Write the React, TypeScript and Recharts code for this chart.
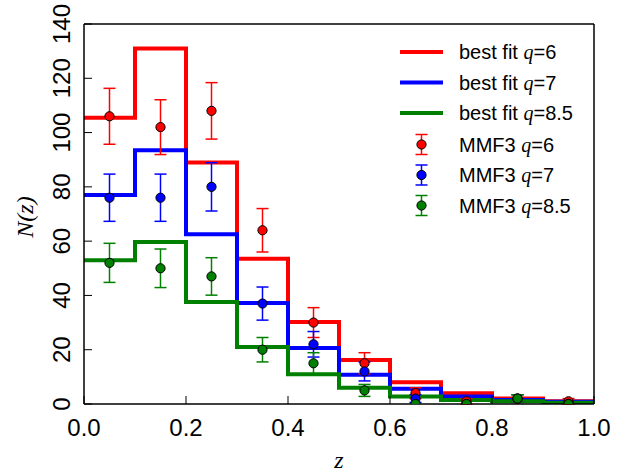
import { ComposedChart, Line, Scatter, ErrorBar, XAxis, YAxis, Label, Legend } from 'recharts'

// bin edges of the redshift histogram
const BIN_EDGES = [0, 0.1, 0.2, 0.3, 0.4, 0.5, 0.6, 0.7, 0.8, 0.9, 1.0]
const BIN_CENTERS = [0.05, 0.15, 0.25, 0.35, 0.45, 0.55, 0.65, 0.75, 0.85, 0.95]

// best fit model counts per bin
const FIT_Q6 = [105.5, 131, 89, 53.5, 30.2, 16.2, 8, 4, 2, 1]
const FIT_Q7 = [77, 93.5, 62.5, 37.2, 20.6, 10.8, 5.6, 2.8, 1.5, 0.8]
const FIT_Q85 = [53, 59.7, 37.6, 21, 11, 6, 2.8, 1.5, 1, 0.5]

// MMF3 cluster counts with errors
const MMF3_Q6 = [106, 102, 108, 64, 30, 15, 4, 1, 2, 1]
const ERR_Q6 = [10.3, 10.1, 10.4, 8, 5.5, 3.9, 2, 1, 1.4, 1]
const MMF3_Q7 = [76, 76, 80, 37, 22, 12, 2, 0, 2, 0]
const ERR_Q7 = [8.7, 8.7, 8.9, 6.1, 4.7, 3.5, 1.4, 0, 1.4, 0]
const MMF3_Q85 = [52, 50, 47, 20, 15, 5, 0, 0, 2, 0]
const ERR_Q85 = [7.2, 7.1, 6.9, 4.5, 3.9, 2.2, 0, 0, 1.4, 0]

const X_TICKS = [0, 0.2, 0.4, 0.6, 0.8, 1.0]
const Y_TICKS = [0, 20, 40, 60, 80, 100, 120, 140]

const RED = '#ff0000'
const BLUE = '#0000ff'
const GREEN = '#008000'
const SANS = '"Liberation Sans", Arial, Helvetica, sans-serif'
const SERIF = '"Liberation Serif", "DejaVu Serif", serif'

const steps = (vals: number[]) =>
  BIN_EDGES.map((x, i) => ({ x, y: vals[Math.min(i, vals.length - 1)] }))

const points = (vals: number[], errs: number[]) =>
  BIN_CENTERS.map((x, i) => ({ x, y: vals[i], e: errs[i] }))

const dot = (color: string) => (p: any) =>
  <circle cx={p.cx} cy={p.cy} r={4.6} fill={color} stroke="#000" strokeWidth={1} />

const XTick = (p: any) => (
  <text x={p.x} y={p.y + 32} textAnchor="middle" fontFamily={SANS} fontSize={24} fill="#000">
    {Number(p.payload.value).toFixed(1)}
  </text>
)

const YTick = (p: any) => (
  <text
    x={p.x}
    y={p.y}
    transform={`rotate(-90, ${p.x}, ${p.y})`}
    textAnchor="middle"
    fontFamily={SANS}
    fontSize={24}
    fill="#000"
  >
    {p.payload.value}
  </text>
)

const fitItems = [
  { color: RED, q: '6' },
  { color: BLUE, q: '7' },
  { color: GREEN, q: '8.5' },
]

function LegendBox() {
  const rowH = 30.5
  return (
    <svg width={210} height={190}>
      {fitItems.map((it, i) => {
        const cy = 22 + i * rowH
        return (
          <g key={'f' + i}>
            <line x1={10} x2={53} y1={cy} y2={cy} stroke={it.color} strokeWidth={4} />
            <text x={69} y={cy + 7} fontFamily={SANS} fontSize={20} fill="#000">
              best fit <tspan fontFamily={SERIF} fontStyle="italic">q</tspan>={it.q}
            </text>
          </g>
        )
      })}
      {fitItems.map((it, i) => {
        const cy = 22 + (i + 3) * rowH + 1
        return (
          <g key={'m' + i}>
            <line x1={31.5} x2={31.5} y1={cy - 10} y2={cy + 10} stroke={it.color} strokeWidth={1.5} />
            <line x1={25.5} x2={37.5} y1={cy - 10} y2={cy - 10} stroke={it.color} strokeWidth={1.5} />
            <line x1={25.5} x2={37.5} y1={cy + 10} y2={cy + 10} stroke={it.color} strokeWidth={1.5} />
            <circle cx={31.5} cy={cy} r={4.6} fill={it.color} stroke="#000" strokeWidth={1} />
            <text x={69} y={cy + 7} fontFamily={SANS} fontSize={20} fill="#000">
              MMF3 <tspan fontFamily={SERIF} fontStyle="italic">q</tspan>={it.q}
            </text>
          </g>
        )
      })}
    </svg>
  )
}

export default function App() {
  return (
    <div style={{ position: 'absolute', left: 0, top: 0, width: 635, height: 475, background: '#fff' }}>
      <ComposedChart width={635} height={475} margin={{ top: 0, right: 0, bottom: 0, left: 0 }}>
        <XAxis
          dataKey="x"
          type="number"
          domain={[0, 1]}
          ticks={X_TICKS}
          allowDataOverflow
          height={71}
          tickSize={-8}
          tickMargin={8}
          tick={XTick}
          axisLine={{ stroke: '#000', strokeWidth: 1.5 }}
          tickLine={{ stroke: '#000' }}
        >
          <Label
            content={(p: any) => (
              <text
                x={p.viewBox.x + p.viewBox.width / 2}
                y={p.viewBox.y + 64}
                textAnchor="middle"
                fontFamily={SERIF}
                fontStyle="italic"
                fontSize={24}
              >
                z
              </text>
            )}
          />
        </XAxis>
        <XAxis
          xAxisId="top"
          orientation="top"
          dataKey="x"
          type="number"
          domain={[0, 1]}
          ticks={X_TICKS}
          allowDataOverflow
          height={24}
          tickSize={-8}
          tick={false}
          axisLine={{ stroke: '#000', strokeWidth: 1.5 }}
          tickLine={{ stroke: '#000' }}
        />
        <YAxis
          type="number"
          domain={[0, 140]}
          ticks={Y_TICKS}
          allowDataOverflow
          width={84}
          tickSize={-8}
          tickMargin={22}
          tick={YTick}
          axisLine={{ stroke: '#000', strokeWidth: 1.5 }}
          tickLine={{ stroke: '#000' }}
        >
          <Label
            content={(p: any) => {
              const cx = p.viewBox.x + 33
              const cy = p.viewBox.y + p.viewBox.height / 2 + 3
              return (
                <text
                  x={cx}
                  y={cy}
                  transform={`rotate(-90, ${cx}, ${cy})`}
                  textAnchor="middle"
                  fontFamily={SERIF}
                  fontStyle="italic"
                  fontSize={24}
                >
                  N(z)
                </text>
              )
            }}
          />
        </YAxis>
        <YAxis
          yAxisId="right"
          orientation="right"
          type="number"
          domain={[0, 140]}
          ticks={Y_TICKS}
          allowDataOverflow
          width={41}
          tickSize={-8}
          tick={false}
          axisLine={{ stroke: '#000', strokeWidth: 1.5 }}
          tickLine={{ stroke: '#000' }}
        />
        <Legend
          layout="horizontal"
          verticalAlign="middle"
          align="center"
          wrapperStyle={{ left: 390, top: 30, width: 210 }}
          content={() => <LegendBox />}
        />
        <Line data={steps(FIT_Q6)} dataKey="y" type="stepAfter" stroke={RED} strokeWidth={4} dot={false} isAnimationActive={false} />
        <Line data={steps(FIT_Q7)} dataKey="y" type="stepAfter" stroke={BLUE} strokeWidth={4} dot={false} isAnimationActive={false} />
        <Line data={steps(FIT_Q85)} dataKey="y" type="stepAfter" stroke={GREEN} strokeWidth={4} dot={false} isAnimationActive={false} />
        <Scatter data={points(MMF3_Q6, ERR_Q6)} dataKey="y" shape={dot(RED)} isAnimationActive={false}>
          <ErrorBar dataKey="e" direction="y" width={6} stroke={RED} strokeWidth={1.5} isAnimationActive={false} />
        </Scatter>
        <Scatter data={points(MMF3_Q7, ERR_Q7)} dataKey="y" shape={dot(BLUE)} isAnimationActive={false}>
          <ErrorBar dataKey="e" direction="y" width={6} stroke={BLUE} strokeWidth={1.5} isAnimationActive={false} />
        </Scatter>
        <Scatter data={points(MMF3_Q85, ERR_Q85)} dataKey="y" shape={dot(GREEN)} isAnimationActive={false}>
          <ErrorBar dataKey="e" direction="y" width={6} stroke={GREEN} strokeWidth={1.5} isAnimationActive={false} />
        </Scatter>
      </ComposedChart>
    </div>
  )
}
